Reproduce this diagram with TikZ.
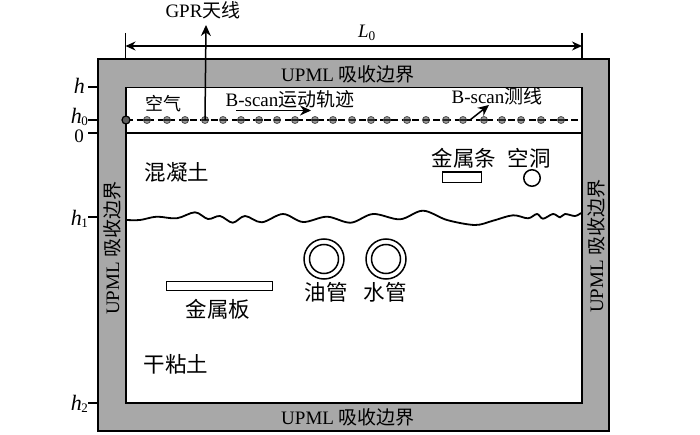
\documentclass[tikz,border=0pt]{standalone}
\usepackage{fontspec}
\setmainfont{Liberation Serif}
\newfontfamily\cjk{Noto Sans CJK SC}
\usetikzlibrary{arrows.meta}
\definecolor{wallgray}{gray}{0.66}
\definecolor{dotgray}{gray}{0.6}
\newcommand{\hsubs}[1]{h\kern-0.5pt\raisebox{-2pt}{\fontsize{13}{13}\selectfont\upshape #1}}
\tikzset{
  x=1pt,y=-1pt,
  lab/.style={inner sep=0pt,font=\fontsize{21.5}{22}\selectfont\cjk},
  wall/.style={inner sep=0pt,font=\fontsize{19}{20}\selectfont},
  small/.style={inner sep=0pt,font=\fontsize{19}{20}\selectfont},
  hlab/.style={inner sep=0pt,font=\fontsize{22}{22}\selectfont\itshape,anchor=east},
  thin line/.style={line width=1.4pt,black},
  frame/.style={line width=1.9pt,black},
  arrow/.style={line width=1.5pt,-{Stealth[length=11pt,width=10pt]}},
  dot/.style={circle,draw=black!70,fill=dotgray,line width=0.8pt,minimum size=7pt,inner sep=0pt},
}
\begin{document}
\begin{tikzpicture}
\useasboundingbox (0,0) rectangle (700,435);
% walls
\draw[frame,fill=wallgray] (98,59) rectangle (609,431);
\draw[frame,fill=white] (126,87.5) rectangle (582,403);
\draw[frame] (126,133) -- (582,133);
% left ticks
\coordinate (ht) at (98,87);\coordinate (h0t) at (98,120);\coordinate (zt) at (98,133);\coordinate (h1t) at (98,217);\coordinate (h2t) at (98,403);
\coordinate (hs) at (88,87);\coordinate (h0s) at (88,120);\coordinate (zs) at (88,133);\coordinate (h1s) at (88,217);\coordinate (h2s) at (88,403);
\foreach \a/\b in {hs/ht,h0s/h0t,zs/zt,h1s/h1t,h2s/h2t}{\draw[thin line] (\a)--(\b);}
\node[hlab] (lh) at (85,86) {h};
\node[hlab] (lh0) at (88,116.5) {\hsubs{0}};
\node[hlab,font=\fontsize{19}{19}\selectfont] (l0) at (84,136) {0};
\node[hlab] (lh1) at (88,219) {\hsubs{1}};
\node[hlab] (lh2) at (88,404) {\hsubs{2}};
% L0 dimension
\coordinate (ll) at (125.5,33);\coordinate (lb) at (125.5,59);
\coordinate (rl) at (582,33);\coordinate (rb) at (582,59);
\draw[thin line] (ll)--(lb);\draw[thin line] (rl)--(rb);
\coordinate (la) at (125.5,46);\coordinate (ra) at (582,46);
\draw[line width=1.4pt,{Stealth[length=10pt,width=9pt]}-{Stealth[length=10pt,width=9pt]}] (la)--(ra);
\node[inner sep=0pt,font=\fontsize{19}{19}\selectfont\itshape] (L0) at (367,33) {L\textsubscript{\upshape 0}};
% wall labels
\node[wall] (wt) at (348,74) {UPML {\cjk 吸收边界}};
\node[wall] (wb) at (348,417) {UPML {\cjk 吸收边界}};
\node[wall,rotate=90] (wl) at (112,248) {UPML {\cjk 吸收边界}};
\node[wall,rotate=90] (wr) at (596,246) {UPML {\cjk 吸收边界}};
% survey line
\draw[line width=1.5pt,dash pattern=on 7pt off 3.6pt] (126,120) -- (582,120);
\node[dot,fill=dotgray!60!black,draw=black,line width=1.2pt,minimum size=8pt] (d0) at (126,120) {};
\foreach \i/\x in {1/147,2/167,3/185,4/205,5/223,6/241,7/259,8/277,9/295,10/315,11/333,12/352,13/371,14/387,15/407,16/426,17/446,18/463,19/484,20/502,21/521,22/541,23/561}{
  \node[dot] (d\i) at (\x,120) {};
  \draw[line width=1.2pt,black!85] (\x-3.5,120) -- (\x+3.5,120);
}
% GPR antenna
\node[small] (gpr) at (203,10) {GPR{\cjk 天线}};
\coordinate (gprtip) at (206,25);
\draw[arrow] (d4.center) -- (gprtip);
% labels in air
\node[lab,font=\fontsize{18}{18}\selectfont\cjk] (air) at (163,104) {空气};
\node[small] (bt) at (290,99) {B-scan{\cjk 运动轨迹}};
\coordinate (bs) at (236,110.5);\coordinate (be) at (311,110.5);
\draw[arrow] (bs)--(be);
\node[small] (bl) at (497,96.5) {B-scan{\cjk 测线}};
\coordinate (bls) at (470,120);
\coordinate (ble) at (489,105);
\draw[arrow] (bls)--(ble);
% interface
\draw[line width=1.8pt] plot[smooth,tension=0.55] coordinates {(126.7,220)(140,220)(156.7,216.7)(176.7,218.3)(195,212.3)(208,219)(220,216)(232.7,222.7)(245,216)(261.7,222.3)(283,214)(303,222)(327,216.7)(350.7,222.7)(373,214)(400,219.3)(423,210.7)(447,220)(475,225)(493,220.7)(513,215.3)(528,218.3)(537,214)(543,218.7)(553,214)(560,217.3)(565,214)(575,216)(581,213)};
% materials
\node[lab] (conc) at (177,172) {混凝土};
\node[lab] (clay) at (176,364) {干粘土};
\node[lab] (strip) at (464,158) {金属条};
\node[lab] (hole) at (529,158) {空洞};
\node[draw,line width=1.5pt,minimum width=39pt,minimum height=10.5pt,inner sep=0pt] (stripb) at (462,177.5) {};
\node[circle,draw,line width=1.5pt,minimum size=16.5pt,inner sep=0pt] (holeb) at (532,178) {};
\node[draw,line width=1.3pt,minimum width=106pt,minimum height=8.5pt,inner sep=0pt] (plate) at (219.5,286) {};
\node[lab] (platel) at (218,309) {金属板};
% pipes
\node[circle,draw,line width=1.5pt,minimum size=40pt,inner sep=0pt] (oilo) at (324,259) {};
\node[circle,draw,line width=1.5pt,minimum size=29pt,inner sep=0pt] (oili) at (324,259) {};
\node[circle,draw,line width=1.5pt,minimum size=40pt,inner sep=0pt] (wato) at (386,259) {};
\node[circle,draw,line width=1.5pt,minimum size=29pt,inner sep=0pt] (wati) at (386,259) {};
\node[lab] (oil) at (326,292) {油管};
\node[lab] (wat) at (385,292) {水管};
\end{tikzpicture}
\end{document}
